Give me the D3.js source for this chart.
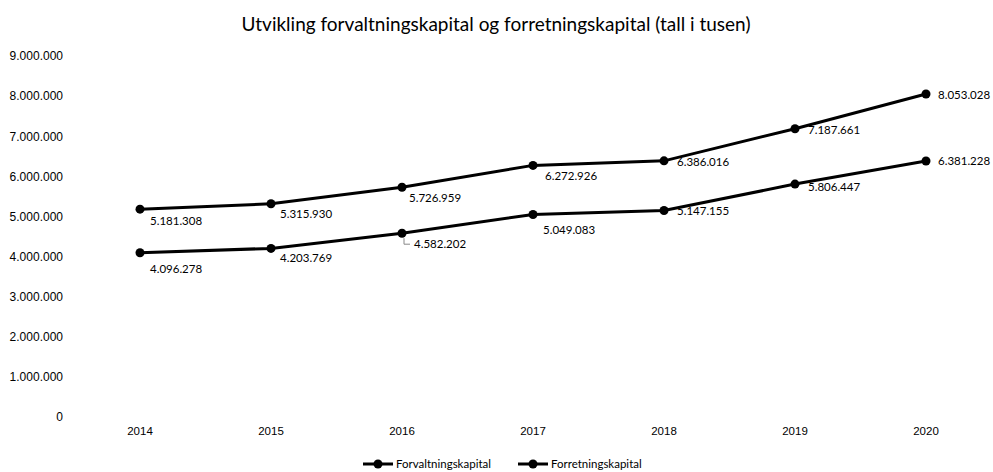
<!DOCTYPE html>
<html>
<head>
<meta charset="utf-8">
<script src="https://cdn.jsdelivr.net/npm/d3@7"></script>
<style>
  body { margin: 0; background: #fff; }
  svg { display: block; font-family: Lato, "Open Sans", sans-serif; }
</style>
</head>
<body>
<div id="chart"></div>
<script>
const years = ["2014", "2015", "2016", "2017", "2018", "2019", "2020"];
const forvaltning = [5181308, 5315930, 5726959, 6272926, 6386016, 7187661, 8053028];
const forretning = [4096278, 4203769, 4582202, 5049083, 5147155, 5806447, 6381228];
const seriesNames = ["Forvaltningskapital", "Forretningskapital"];
const yTicks = [0, 1000000, 2000000, 3000000, 4000000, 5000000, 6000000, 7000000, 8000000, 9000000];
const title = "Utvikling forvaltningskapital og forretningskapital (tall i tusen)";

// label offsets (dx, dy) relative to each point, per series
const labelOffsets = [
  [[10, 12], [9, 10], [7, 11], [12, 11], [13, 1], [13, 1], [12, 1]],
  [[10, 16], [9, 10], [12, 11], [10, 15], [13, 0], [13, 3], [12, 0]]
];

const width = 993, height = 472;
const svg = d3.select("#chart").append("svg")
  .attr("width", width)
  .attr("height", height);

const x = d3.scaleBand().domain(years).range([74.5, 991.5]);
const y = d3.scaleLinear().domain([0, 9000000]).range([417, 56]);

const fmt = v => d3.format(",")(v).replace(/,/g, ".");

svg.append("text")
  .attr("x", 496)
  .attr("y", 31)
  .attr("text-anchor", "middle")
  .style("font-size", "19px")
  .attr("fill", "#000")
  .text(title);

// y axis labels
const yAxis = svg.append("g")
  .attr("transform", "translate(63,0)")
  .call(d3.axisLeft(y).tickValues(yTicks).tickFormat(fmt).tickSize(0).tickPadding(0));
yAxis.select(".domain").remove();
yAxis.selectAll("text").style("font-size", "12px").attr("fill", "#000");

// x axis labels
const xAxis = svg.append("g")
  .attr("transform", "translate(0,423)")
  .call(d3.axisBottom(x).tickSize(0).tickPadding(4));
xAxis.select(".domain").remove();
xAxis.selectAll("text").style("font-size", "11.5px").attr("fill", "#000");

const cx = d => x(d) + x.bandwidth() / 2;
const line = d3.line().x(d => cx(d.year)).y(d => y(d.value));

[forvaltning, forretning].forEach((vals, si) => {
  const pts = years.map((yr, i) => ({ year: yr, value: vals[i] }));
  const g = svg.append("g");
  g.append("path")
    .datum(pts)
    .attr("fill", "none")
    .attr("stroke", "#000")
    .attr("stroke-width", 3)
    .attr("d", line);
  g.selectAll("circle")
    .data(pts)
    .enter()
    .append("circle")
    .attr("cx", d => cx(d.year))
    .attr("cy", d => y(d.value))
    .attr("r", 4.5)
    .attr("fill", "#000");
  g.selectAll("text")
    .data(pts)
    .enter()
    .append("text")
    .attr("x", (d, i) => cx(d.year) + labelOffsets[si][i][0])
    .attr("y", (d, i) => y(d.value) + labelOffsets[si][i][1])
    .attr("dy", "0.35em")
    .style("font-size", "11.5px")
    .attr("fill", "#000")
    .text(d => fmt(d.value));
});

// leader line for 2016 Forretningskapital label
const lx = cx("2016"), ly = y(forretning[2]);
svg.append("path")
  .attr("d", `M${lx + 2},${ly + 5}V${ly + 11}H${lx + 8}`)
  .attr("fill", "none")
  .attr("stroke", "#888")
  .attr("stroke-width", 1);

// legend
const legend = svg.append("g").attr("transform", "translate(0,464)");
const legendX = [363, 518];
seriesNames.forEach((name, i) => {
  const lg = legend.append("g").attr("transform", `translate(${legendX[i]},0)`);
  lg.append("line").attr("x1", 0).attr("x2", 30).attr("stroke", "#000").attr("stroke-width", 3);
  lg.append("circle").attr("cx", 15).attr("r", 4.5).attr("fill", "#000");
  lg.append("text")
    .attr("x", 33)
    .attr("dy", "0.35em")
    .style("font-size", "11.5px")
    .attr("fill", "#000")
    .text(name);
});
</script>
</body>
</html>
